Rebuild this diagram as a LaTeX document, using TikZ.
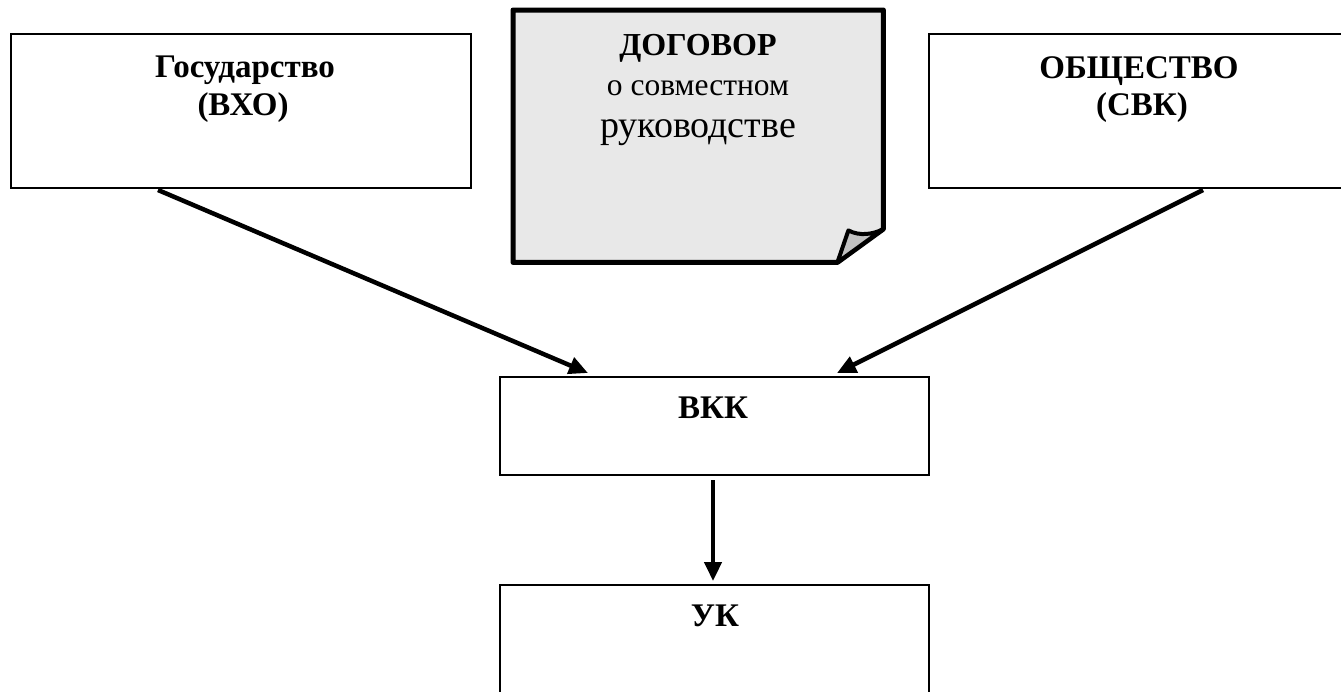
\documentclass[tikz,border=0pt]{standalone}
\usepackage{fontspec}
\setmainfont{Liberation Serif}
\usetikzlibrary{arrows.meta,calc}
\tikzset{
  box/.style={draw=black, line width=2pt, fill=white, rectangle, inner sep=0pt, anchor=north west},
  lbl/.style={font=\fontsize{33}{38}\selectfont\bfseries, anchor=base, inner sep=0pt},
  arr/.style={line width=4.5pt, -{Triangle[length=19pt,width=17pt]}},
}
\begin{document}
\begin{tikzpicture}[x=1pt,y=-1pt]
\useasboundingbox (0,0) rectangle (1341,691);
\clip (0,0) rectangle (1341,691);
% boxes
\node[box, minimum width=460pt, minimum height=154pt] (gos) at (10,33) {};
\node[box, minimum width=440pt, minimum height=154pt] (obs) at (928,33) {};
\node[box, minimum width=429pt, minimum height=98pt] (vkk) at (499,376) {};
\node[box, minimum width=429pt, minimum height=140pt] (uk) at (499,584) {};
% labels
\node[lbl] (t1) at (245,77) {Государство};
\node[lbl] (t2) at (243,115) {(ВХО)};
\node[lbl] (t3) at (1139,78) {ОБЩЕСТВО};
\node[lbl] (t4) at (1142,115) {(СВК)};
\node[lbl] (t5) at (713,418) {ВКК};
\node[lbl] (t6) at (715,626) {УК};
% document
\node[draw=none, minimum width=370pt, minimum height=252pt, inner sep=0pt, anchor=north west] (dog) at (513,10) {};
\draw[line width=5pt, line join=round, fill=black!9]
  (dog.north west) -- (dog.north east) -- ($(dog.north east)+(0,219)$) -- ($(dog.south east)+(-46,0)$) -- (dog.south west) -- cycle;
\draw[line width=4pt, line join=round, fill=black!24]
  ($(dog.south east)+(-46,0)$) -- ($(dog.south east)+(-35,-32)$) .. controls ($(dog.south east)+(-24,-26)$) and ($(dog.south east)+(-10,-28)$) .. ($(dog.north east)+(0,219)$) -- cycle;
\node[anchor=base, inner sep=0pt, font=\fontsize{32}{36}\selectfont\bfseries] (d1) at (698,55) {ДОГОВОР};
\node[anchor=base, inner sep=0pt, font=\fontsize{31.5}{36}\selectfont] (d2) at (698,95) {о совместном};
\node[anchor=base, inner sep=0pt, font=\fontsize{38}{42}\selectfont] (d3) at (698,137) {руководстве};
% arrows
\draw[arr] ($(gos.south west)+(148,1)$) -- ($(vkk.north west)+(89,-3)$);
\draw[arr] ($(obs.south west)+(275,1)$) -- ($(vkk.north west)+(338,-3)$);
\draw[arr] ($(vkk.south west)+(214,4)$) -- ($(uk.north west)+(214,-3)$);
\end{tikzpicture}
\end{document}
